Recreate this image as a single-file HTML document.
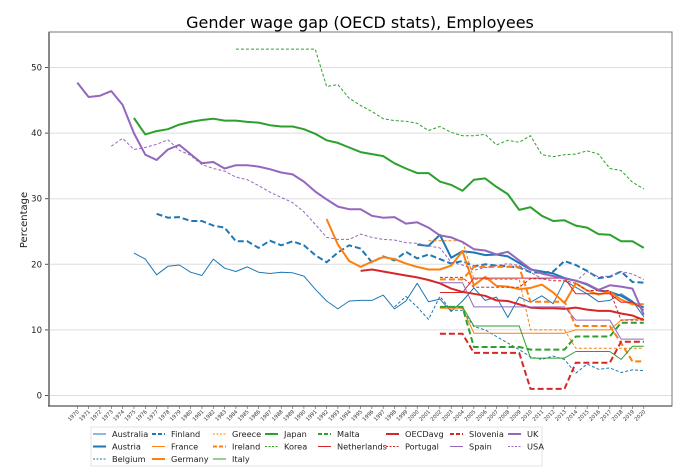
<!DOCTYPE html>
<html><head><meta charset="utf-8"><style>
html,body{margin:0;padding:0;background:#fff}
svg{display:block;font-family:"DejaVu Sans","Liberation Sans",sans-serif}
</style></head><body>
<svg id="s" width="700" height="467" viewBox="0 0 700 467" xmlns="http://www.w3.org/2000/svg">
<rect width="700" height="467" fill="#fff"/>
<text x="360" y="28" font-size="16" text-anchor="middle" fill="#000">Gender wage gap (OECD stats), Employees</text>
<text transform="translate(27,220) rotate(-90)" font-size="10" text-anchor="middle" fill="#222">Percentage</text>
<g id="grid" stroke="#ddd" stroke-width="1"></g>
<g id="series" fill="none" stroke-linejoin="round"></g>
<rect x="49" y="32" width="623" height="374" fill="none" stroke="#777" stroke-width="1"/>
<line x1="49" y1="32" x2="49" y2="406.5" stroke="#888" stroke-width="2"/>
<line x1="48" y1="406" x2="672" y2="406" stroke="#555" stroke-width="1.3"/>
<g font-size="8.5" fill="#222" text-anchor="end">
<text x="42" y="398.5">0</text><text x="42" y="333">10</text><text x="42" y="267.3">20</text>
<text x="42" y="201.7">30</text><text x="42" y="136">40</text><text x="42" y="70.5">50</text>
</g>
<g id="xt" font-size="5.2" fill="#333" text-anchor="end"></g>
<g id="legend">
<rect x="91" y="427" width="451" height="39" fill="#fff" stroke="#ddd" stroke-width="0.8"/>
</g>
</svg>
<script>
const NS="http://www.w3.org/2000/svg";
const X=y=>77.3+11.33*(y-1970), Y=v=>395.5-6.56*v;
function el(t,a,p){const e=document.createElementNS(NS,t);for(const k in a)e.setAttribute(k,a[k]);p.appendChild(e);return e;}
const g=document.getElementById('grid');
for(let v=0;v<=50;v+=10){el('line',{x1:49,x2:672,y1:Y(v),y2:Y(v)},g);el('line',{x1:45,x2:49,y1:Y(v),y2:Y(v),stroke:'#555'},g);}
const xt=document.getElementById('xt');
for(let yr=1970;yr<=2020;yr++){const x=X(yr);el('line',{x1:x,x2:x,y1:406,y2:409,stroke:'#555','stroke-width':0.6},g);
const t=el('text',{transform:`translate(${x+2},412) rotate(-45)`},xt);t.textContent=yr;}
const C=['#1f77b4','#ff7f0e','#2ca02c','#d62728','#9467bd'];
const ST={thin:[1,''],thick:[2,''],dthin:[1,'3,2'],dthick:[2,'6,3']};
function seq(y0,arr){return arr.map((v,i)=>[y0+i,v]);}
const S=[
['Australia',0,'thin',seq(1975,[21.7,20.8,18.4,19.7,19.9,18.8,18.3,20.8,19.4,18.9,19.6,18.8,18.6,18.8,18.7,18.2,16.2,14.4,13.2,14.4,14.5,14.5,15.3,13.2,14.4,17.1,14.3,14.7,12.8,14.4,16.4,14.5,15,11.9,15,14.2,15.2,14,17.5,16.5,15.5,14.3,14.5,15.5,14.4,12])],
['Austria',0,'thick',seq(2000,[23,22.8,24.5,21,22,21.8,21.4,21.5,21.2,20.2,19.2,18.9,18.6,17.9,17.5,16.9,16,15.8,15.2,14.2,13.4])],
['Belgium',0,'dthin',seq(1998,[13.5,15.1,13.5,11.6,15.1,13,13,10.5,10,9,8,7,5.9,5.5,6,5.5,3.4,4.8,4,4.2,3.5,3.9,3.8])],
['Finland',0,'dthick',seq(1977,[27.7,27.1,27.2,26.6,26.6,25.9,25.6,23.5,23.5,22.5,23.6,22.9,23.5,22.9,21.4,20.3,21.8,22.9,22.4,20.3,21.2,20.6,21.9,20.9,21.5,20.8,20.1,20.5,19.7,20,19.8,19.7,19.5,18.8,18.7,18.9,20.5,19.9,19,17.9,18.1,18.9,17.3,17.2])],
['France',1,'thin',seq(2002,[13.3,13.3,13.3,9.5,9.5,9.5,9.5,9.5,9.5,9.5,9.5,9.5,10,10,10,10,11.5,11.6,11.8])],
['Germany',1,'thick',seq(1992,[26.9,23,20.5,19.6,20.4,21.1,20.8,20.1,19.6,19.2,19.2,19.8,22,16.8,18.1,16.7,16.6,16.2,16.4,16.9,15.7,14.1,17.1,16,15.4,15.8,14.6,13.9,13.9])],
['Greece',1,'dthin',seq(2001,[23.6,23.6,23.6,23.6,17.7,17.7,17.7,17.7,17.7,10,10,10,10,7.2,7.2,7.2,7.2,7.2,7.2,7.2])],
['Ireland',1,'dthick',seq(2002,[17.7,17.7,17.7,19.6,19.6,19.6,19.6,19.6,14.3,14.3,14.3,14.3,10.6,10.6,10.6,10.6,8,5.2,5.2])],
['Italy',2,'thin',seq(2002,[13.5,13.5,13.5,10.6,10.6,10.6,10.6,10.6,5.7,5.7,5.7,5.7,6.7,6.7,6.7,6.7,5.5,7.5,7.5])],
['Japan',2,'thick',seq(1975,[42.3,39.8,40.3,40.6,41.3,41.7,42,42.2,41.9,41.9,41.7,41.6,41.2,41,41,40.6,39.9,38.9,38.5,37.8,37.1,36.8,36.5,35.4,34.6,33.9,33.9,32.6,32.1,31.2,32.9,33.1,31.8,30.7,28.3,28.7,27.4,26.6,26.7,25.9,25.6,24.6,24.5,23.5,23.5,22.5])],
['Korea',2,'dthin',seq(1984,[52.8,52.8,52.8,52.8,52.8,52.8,52.8,52.8,47.1,47.4,45.3,44.2,43.3,42.2,41.9,41.8,41.5,40.4,41,40.1,39.6,39.6,39.8,38.2,38.9,38.6,39.6,36.7,36.4,36.7,36.8,37.3,36.8,34.6,34.3,32.5,31.5])],
['Malta',2,'dthick',seq(2002,[13.5,13.5,13.5,7.4,7.4,7.4,7.4,7.4,7,7,7,7,9,9,9,9,11.1,11.1,11.1])],
['Netherlands',3,'thin',seq(2002,[15.7,15.7,15.7,17.9,17.9,17.9,17.9,17.9,17.9,17.9,17.9,17.9,15.5,15.5,15.5,15.5,14.2,14.2,13])],
['OECDavg',3,'thick',seq(1995,[19,19.2,18.9,18.6,18.3,18,17.6,17.1,16.3,15.8,15.5,15.2,14.5,14.4,13.9,13.4,13.3,13.3,13.2,13.4,13.1,12.9,12.9,12.5,12.2,11.5])],
['Portugal',3,'dthin',seq(2002,[18,18,18,16.5,16.5,16.5,16.5,16.5,17.8,17.8,17.5,17.5,17.1,16,16,16,11.5,11.5,11.5])],
['Slovenia',3,'dthick',seq(2002,[9.4,9.4,9.4,6.5,6.5,6.5,6.5,6.5,1,1,1,1,5,5,5,5,8.2,8.2,8.2])],
['Spain',4,'thin',seq(2002,[17.2,17.2,17.2,13.5,13.5,13.5,13.5,13.5,13.5,13.5,13.5,13.5,11.5,11.5,11.5,11.5,8.6,8.6,8.6])],
['UK',4,'thick',seq(1970,[47.7,45.5,45.7,46.4,44.3,40,36.7,35.9,37.5,38.2,36.8,35.4,35.6,34.6,35.1,35.1,34.9,34.5,34,33.7,32.6,31.1,29.9,28.8,28.4,28.4,27.4,27.1,27.2,26.2,26.4,25.6,24.4,24.1,23.4,22.3,22.1,21.5,21.9,20.6,19.3,18.6,18.2,17.8,17.5,17,16.1,16.8,16.6,16.3,12.3])],
['USA',4,'dthin',seq(1973,[38,39.2,37.5,37.8,38.3,39,37.4,36.6,35.2,34.6,34.2,33.3,32.9,32,31,30.2,29.4,28,26.1,24.1,23.8,23.8,24.6,24.1,23.8,23.7,23.3,23.2,22.8,22.5,20.3,19.9,19.1,19.5,19.8,20.1,19.8,18.8,17.8,17.9,17.9,17.4,18.9,18.1,18.2,18.9,18.5,17.7])]
];
const sg=document.getElementById('series'), lg=document.getElementById('legend');
const colX=[93,152,213,265,318,386,450,508], rowY=[434,446.5,459];
const order=[['Australia',0,0],['Austria',0,1],['Belgium',0,2],['Finland',1,0],['France',1,1],['Germany',1,2],['Greece',2,0],['Ireland',2,1],['Italy',2,2],['Japan',3,0],['Korea',3,1],['Malta',4,0],['Netherlands',4,1],['OECDavg',5,0],['Portugal',5,1],['Slovenia',6,0],['Spain',6,1],['UK',7,0],['USA',7,1]];
S.forEach(s=>{const [n,c,st,d]=s;const [w,da]=ST[st];
 el('path',{d:d.map((p,i)=>(i?'L':'M')+X(p[0]).toFixed(1)+','+Y(p[1]).toFixed(1)).join(''),stroke:C[c],'stroke-width':w,'stroke-dasharray':da},sg);
 const o=order.find(q=>q[0]===n);const lx=colX[o[1]],ly=rowY[o[2]];
 el('line',{x1:lx,x2:lx+13,y1:ly,y2:ly,stroke:C[c],'stroke-width':w,'stroke-dasharray':da?(w>1?'4,2':'2,1.5'):''},lg);
 const t=el('text',{x:lx+19,y:ly+3,'font-size':'8.2',fill:'#222'},lg);t.textContent=n;});
</script>
</body></html>
